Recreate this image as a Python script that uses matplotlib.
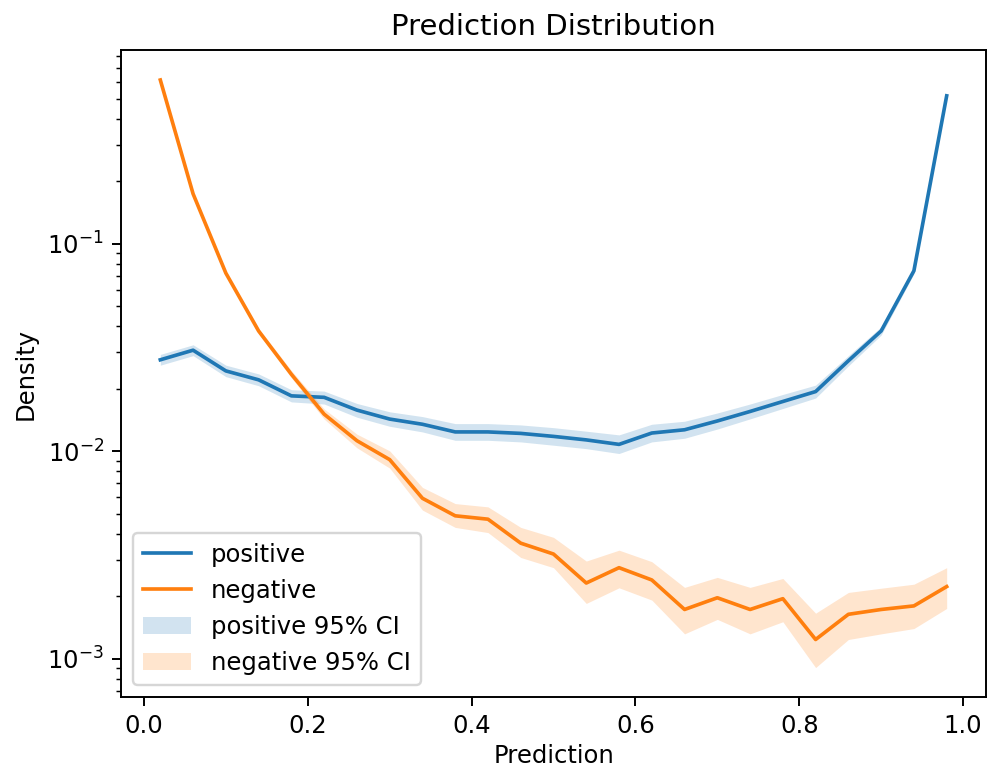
import matplotlib
matplotlib.use("Agg")
import matplotlib.pyplot as plt

# Bin centres of the predicted probability
prediction = [0.02, 0.06, 0.10, 0.14, 0.18, 0.22, 0.26, 0.30, 0.34, 0.38,
              0.42, 0.46, 0.50, 0.54, 0.58, 0.62, 0.66, 0.70, 0.74, 0.78,
              0.82, 0.86, 0.90, 0.94, 0.98]

# Density of predictions for positive samples, with 95% CI bounds
positive = [0.0276, 0.0307, 0.0244, 0.0221, 0.0185, 0.0182, 0.0158, 0.0143,
            0.0135, 0.0124, 0.0124, 0.0122, 0.0118, 0.01135, 0.0108, 0.01225,
            0.0127, 0.0140, 0.01556, 0.01738, 0.0194, 0.0273, 0.0380, 0.0741,
            0.516]
positive_lo = [0.0260, 0.0289, 0.0229, 0.0207, 0.0173, 0.0169, 0.0146, 0.0132,
               0.0124, 0.0113, 0.0113, 0.0111, 0.0107, 0.0103, 0.00976, 0.0111,
               0.01156, 0.0128, 0.01433, 0.01608, 0.01806, 0.0258, 0.0363,
               0.0717, 0.509]
positive_hi = [0.0293, 0.0326, 0.0260, 0.0236, 0.0198, 0.0195, 0.0170, 0.0155,
               0.0147, 0.0136, 0.0136, 0.0134, 0.0130, 0.0125, 0.0120, 0.0135,
               0.01396, 0.0153, 0.0169, 0.01879, 0.02084, 0.0289, 0.0398,
               0.0766, 0.523]

# Density of predictions for negative samples, with 95% CI bounds
negative = [0.615, 0.174, 0.0722, 0.0380, 0.0235, 0.0151, 0.01125, 0.00912,
            0.00594, 0.00489, 0.00471, 0.00361, 0.0032, 0.00232, 0.00275,
            0.00240, 0.00173, 0.00197, 0.00173, 0.00195, 0.00124, 0.00164,
            0.00173, 0.00180, 0.00223]
negative_lo = [0.611, 0.172, 0.0709, 0.0370, 0.0226, 0.0143, 0.0104, 0.0083,
               0.00521, 0.0043, 0.00406, 0.00308, 0.00275, 0.00185, 0.00220,
               0.00192, 0.00132, 0.00155, 0.00132, 0.00151, 0.000908, 0.00124,
               0.00132, 0.00140, 0.00175]
negative_hi = [0.619, 0.176, 0.0735, 0.0391, 0.0245, 0.0160, 0.0121, 0.01005,
               0.0067, 0.0056, 0.0054, 0.0043, 0.00385, 0.00296, 0.00334,
               0.00294, 0.00221, 0.00247, 0.00221, 0.00244, 0.00166, 0.00209,
               0.00219, 0.00229, 0.00275]

DPI = 175
fig = plt.figure(figsize=(987 / DPI, 767 / DPI), dpi=DPI)
ax = fig.add_axes([121 / 987, 1 - 697 / 767, 865 / 987, 647 / 767])

ax.plot(prediction, positive, color="C0", label="positive")
ax.plot(prediction, negative, color="C1", label="negative")
ax.fill_between(prediction, positive_lo, positive_hi, color="C0", alpha=0.2,
                linewidth=0, label="positive 95% CI")
ax.fill_between(prediction, negative_lo, negative_hi, color="C1", alpha=0.2,
                linewidth=0, label="negative 95% CI")

ax.set_yscale("log")
ax.set_xlabel("Prediction", labelpad=2.5)
ax.set_ylabel("Density")
ax.set_title("Prediction Distribution")
ax.legend(loc="lower left")

fig.savefig("out.png", dpi=DPI)
